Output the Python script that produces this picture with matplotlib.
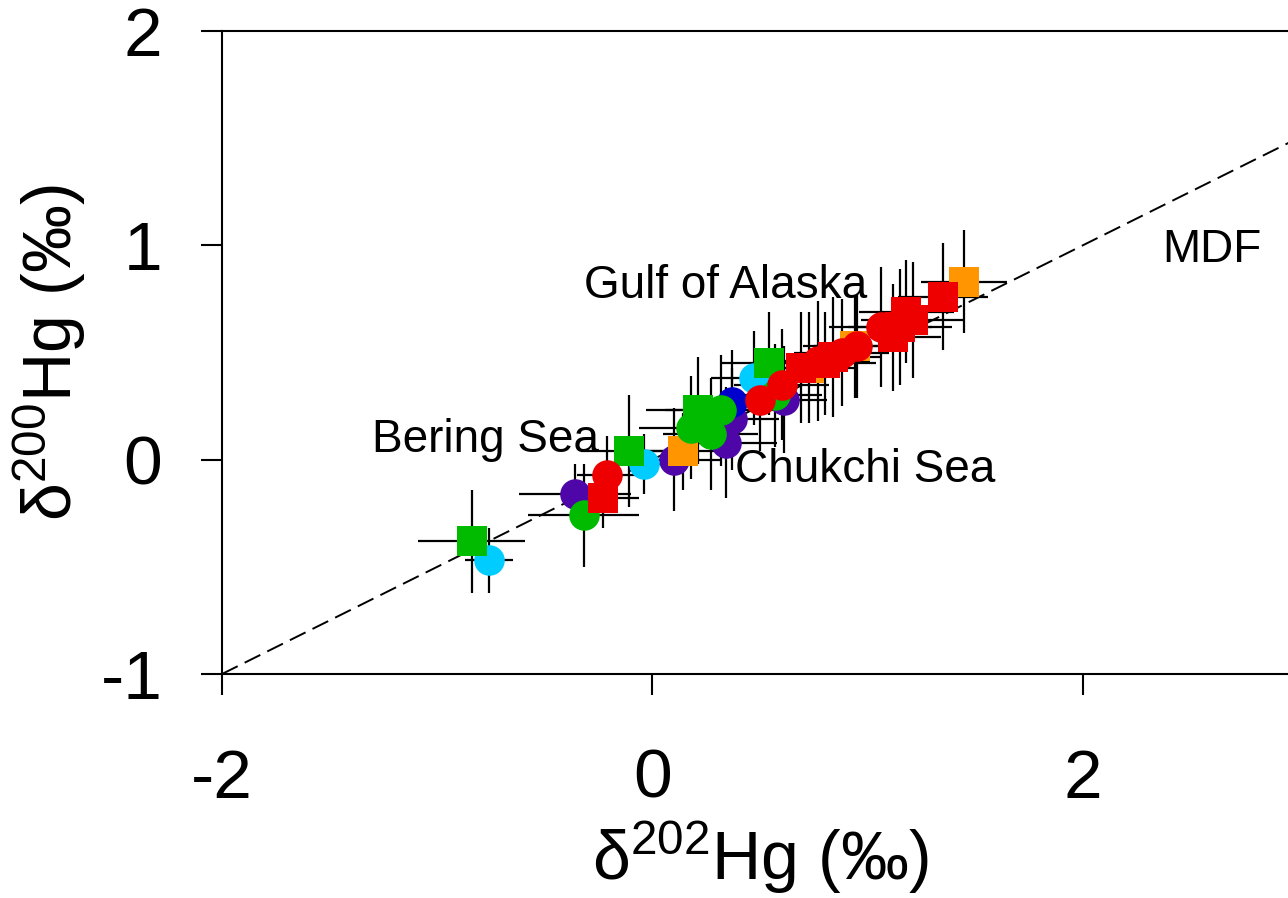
import matplotlib
matplotlib.use("Agg")
import matplotlib.pyplot as plt
import numpy as np

plt.rcParams["font.family"] = ["Liberation Sans", "DejaVu Sans"]
plt.rcParams["mathtext.default"] = "regular"
plt.rcParams["axes.unicode_minus"] = False

# d202Hg, d200Hg and 2SD error bars, by colour / shape
red_c_x = [-0.21, 0.50, 0.60, 0.77, 0.88, 0.95, 1.06]
red_c_y = [-0.07, 0.28, 0.35, 0.46, 0.50, 0.53, 0.62]
red_c_xe = [0.14, 0.18, 0.22, 0.24, 0.22, 0.20, 0.24]
red_c_ye = [0.18, 0.24, 0.26, 0.28, 0.25, 0.24, 0.28]

red_s_x = [-0.23, 0.69, 0.80, 0.84, 1.12, 1.15, 1.18, 1.21, 1.35]
red_s_y = [-0.18, 0.43, 0.45, 0.48, 0.57, 0.62, 0.69, 0.65, 0.76]
red_s_xe = [0.17, 0.22, 0.24, 0.22, 0.22, 0.24, 0.22, 0.24, 0.21]
red_s_ye = [0.14, 0.26, 0.24, 0.28, 0.25, 0.27, 0.24, 0.27, 0.25]

orange_x = [0.14, 0.73, 0.94, 1.45]
orange_y = [0.04, 0.43, 0.53, 0.83]
orange_xe = [0.20, 0.22, 0.24, 0.20]
orange_ye = [0.18, 0.26, 0.24, 0.24]

green_c_x = [-0.32, 0.18, 0.27, 0.32, 0.57]
green_c_y = [-0.26, 0.15, 0.12, 0.23, 0.30]
green_c_xe = [0.26, 0.24, 0.22, 0.26, 0.22]
green_c_ye = [0.24, 0.24, 0.26, 0.26, 0.24]

green_s_x = [-0.84, -0.11, 0.21, 0.54]
green_s_y = [-0.38, 0.04, 0.23, 0.45]
green_s_xe = [0.25, 0.22, 0.24, 0.22]
green_s_ye = [0.24, 0.26, 0.25, 0.24]

cyan_x = [-0.76, -0.04, 0.47]
cyan_y = [-0.47, -0.02, 0.38]
cyan_xe = [0.11, 0.16, 0.20]
cyan_ye = [0.15, 0.14, 0.22]

purple_x = [-0.36, 0.10, 0.34, 0.37, 0.61]
purple_y = [-0.16, 0.00, 0.08, 0.19, 0.28]
purple_xe = [0.26, 0.22, 0.24, 0.22, 0.20]
purple_ye = [0.14, 0.24, 0.26, 0.24, 0.25]

blue_x = [0.37]
blue_y = [0.27]
blue_xe = [0.20]
blue_ye = [0.24]

mdf_x = [-2, 3]
mdf_slope = 0.5

series = [
    (purple_x, purple_y, purple_xe, purple_ye, "#4E06A8", "o"),
    (blue_x, blue_y, blue_xe, blue_ye, "#0000CC", "o"),
    (cyan_x, cyan_y, cyan_xe, cyan_ye, "#00CCFF", "o"),
    (orange_x, orange_y, orange_xe, orange_ye, "#FF9500", "s"),
    (green_c_x, green_c_y, green_c_xe, green_c_ye, "#00BB00", "o"),
    (green_s_x, green_s_y, green_s_xe, green_s_ye, "#00BB00", "s"),
    (red_c_x, red_c_y, red_c_xe, red_c_ye, "#EE0000", "o"),
    (red_s_x, red_s_y, red_s_xe, red_s_ye, "#EE0000", "s"),
]

fig = plt.figure(figsize=(12.88, 8.98), dpi=100)
ax = fig.add_axes([222 / 1288, 1 - 674 / 898, 1076 / 1288, 643 / 898])

mx = np.array(mdf_x)
ax.plot(mx, mdf_slope * mx, color="black", linestyle=(0, (9, 4)), linewidth=1.4, zorder=1)

for x, y, xe, ye, c, m in series:
    ax.errorbar(x, y, xerr=xe, yerr=ye, fmt="none", ecolor="black",
                elinewidth=1.6, capsize=0, zorder=2)
for x, y, xe, ye, c, m in series:
    ax.plot(x, y, linestyle="none", marker=m, markersize=22, color=c,
            markeredgewidth=0, zorder=3)

ax.text(-0.775, 0.037, "Bering Sea", fontsize=33, ha="center", va="baseline")
ax.text(0.34, 0.756, "Gulf of Alaska", fontsize=33, ha="center", va="baseline")
ax.text(0.99, -0.103, "Chukchi Sea", fontsize=33, ha="center", va="baseline")
ax.text(2.60, 0.924, "MDF", fontsize=33, ha="center", va="baseline")

ax.set_xlim(-2, 3)
ax.set_ylim(-1, 2)
ax.set_xticks([-2, 0, 2])
ax.set_yticks([-1, 0, 1, 2])
ax.tick_params(axis="x", length=15, width=1.5, labelsize=50, pad=38)
ax.tick_params(axis="y", length=15, width=1.5, labelsize=50, pad=28)
for s in ax.spines.values():
    s.set_linewidth(1.5)

ax.set_xlabel(r"δ$^{202}$Hg (‰)", fontsize=49)
ax.set_ylabel(r"δ$^{200}$Hg (‰)", fontsize=49)
ax.xaxis.set_label_coords(0.5, -0.226)
ax.yaxis.set_label_coords(-0.1245, 0.5)

fig.savefig("out.png", dpi=100)
